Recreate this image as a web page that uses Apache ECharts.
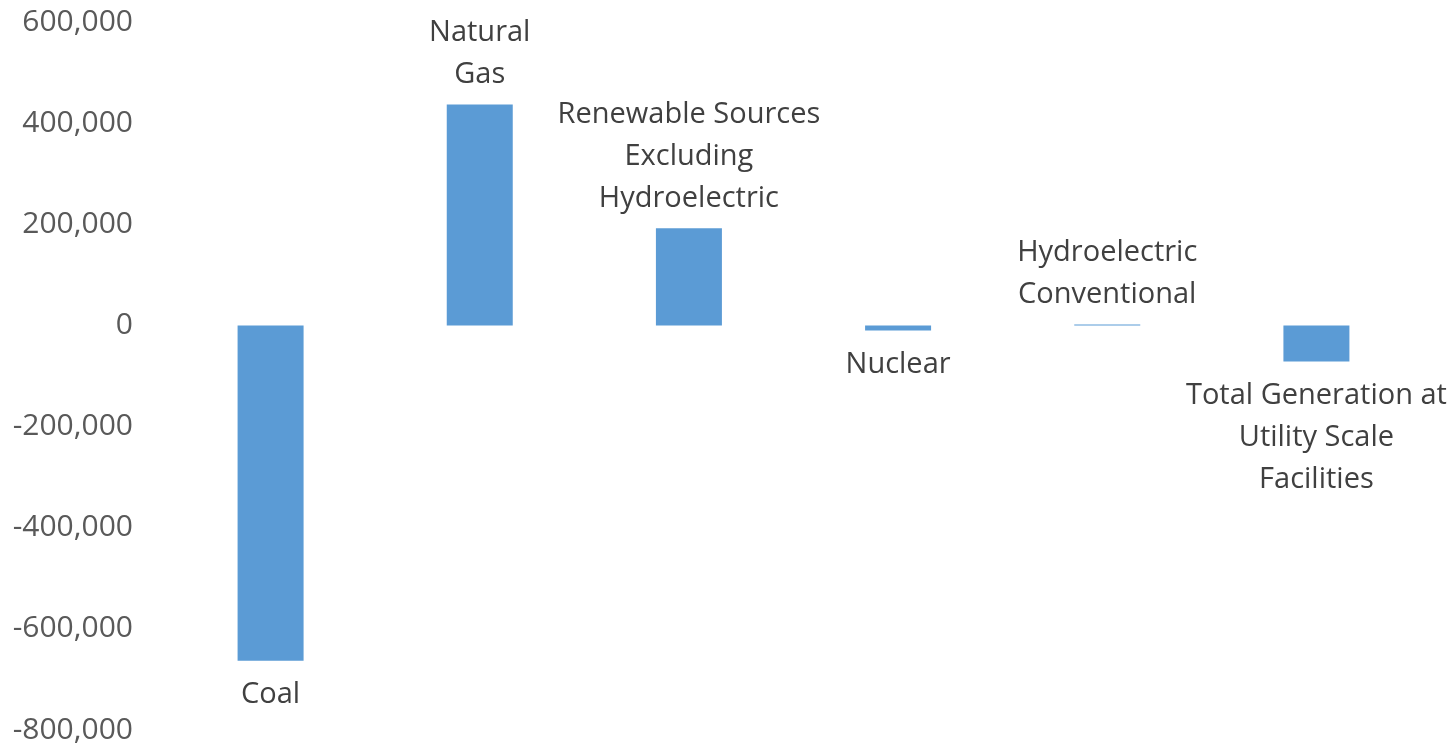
<!DOCTYPE html>
<html>
<head>
<meta charset="utf-8">
<script src="https://cdn.jsdelivr.net/npm/echarts@6/dist/echarts.min.js"></script>
<style>html,body{margin:0;padding:0;background:#fff;}#chart{width:1456px;height:748px;}</style>
</head>
<body>
<div id="chart"></div>
<script>
const categories = ['Coal', 'Natural Gas', 'Renewable Sources Excluding Hydroelectric', 'Nuclear', 'Hydroelectric Conventional', 'Total Generation at Utility Scale Facilities'];
const labelLines = ['Coal', 'Natural\nGas', 'Renewable Sources\nExcluding\nHydroelectric', 'Nuclear', 'Hydroelectric\nConventional', 'Total Generation at\nUtility Scale\nFacilities'];
const values = [-663000, 437000, 192000, -10000, 2000, -71500];
const yTicks = { min: -800000, max: 600000, interval: 200000 };

const FONT = 'Open Sans';
const chart = echarts.init(document.getElementById('chart'));
chart.setOption({
  animation: false,
  grid: { left: 166, right: 35, top: 22, bottom: 18, containLabel: false },
  xAxis: {
    type: 'category', data: categories,
    axisLine: { show: false }, axisTick: { show: false }, axisLabel: { show: false }, splitLine: { show: false }
  },
  yAxis: {
    type: 'value', min: yTicks.min, max: yTicks.max, interval: yTicks.interval,
    axisLine: { show: false }, axisTick: { show: false }, splitLine: { show: false },
    axisLabel: {
      margin: 33, color: '#595959', fontFamily: FONT, fontSize: 30, padding: [10, 0, 0, 0],
      formatter: v => v.toLocaleString('en-US')
    }
  },
  series: [{
    type: 'bar', barWidth: 66,
    data: values.map((v, i) => ({
      value: v,
      label: {
        show: true, position: v >= 0 ? 'top' : 'bottom', distance: v >= 0 ? 9 : 13,
        formatter: labelLines[i], color: '#404040', fontFamily: FONT, fontSize: 29, lineHeight: 42, align: 'center'
      }
    })),
    itemStyle: { color: '#5B9BD5' }
  }]
});
</script>
</body>
</html>
